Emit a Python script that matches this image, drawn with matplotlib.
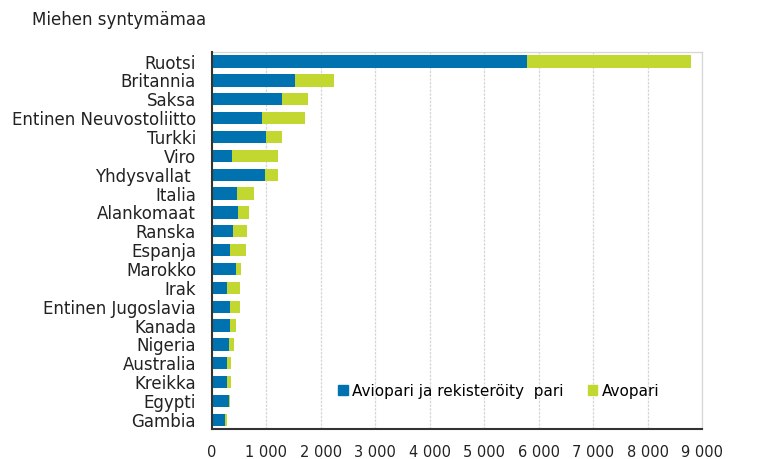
import matplotlib
matplotlib.use("Agg")
import matplotlib.pyplot as plt
from matplotlib.patches import Patch

# Miehen syntymämaa
maat = ["Ruotsi", "Britannia", "Saksa", "Entinen Neuvostoliitto", "Turkki", "Viro",
        "Yhdysvallat ", "Italia", "Alankomaat", "Ranska", "Espanja", "Marokko", "Irak",
        "Entinen Jugoslavia", "Kanada", "Nigeria", "Australia", "Kreikka", "Egypti", "Gambia"]
aviopari = [5780, 1530, 1280, 925, 1000, 365, 975, 455, 475, 390, 330, 445, 275,
            330, 330, 305, 275, 275, 305, 245]
avopari = [3020, 705, 490, 790, 280, 855, 245, 315, 205, 260, 290, 90, 230,
           175, 110, 105, 80, 80, 25, 30]
xticks = [0, 1000, 2000, 3000, 4000, 5000, 6000, 7000, 8000, 9000]

blue = "#0072B0"
green = "#C2D830"

fig = plt.figure(figsize=(7.63, 4.59), dpi=100)
ax = fig.add_axes([0.2779, 0.0647, 0.6422, 0.8217])

y = list(range(len(maat)))
ax.barh(y, aviopari, height=0.65, color=blue, zorder=3)
ax.barh(y, avopari, left=aviopari, height=0.65, color=green, zorder=3)

ax.set_ylim(len(maat) - 0.5, -0.5)
ax.set_xlim(0, 9000)
ax.set_yticks(y)
ax.set_yticklabels(maat, fontsize=12, color="#222222")
ax.set_xticks(xticks)
ax.set_xticklabels([f"{v:,}".replace(",", " ") for v in xticks], fontsize=10.5, color="#222222")
ax.tick_params(axis="y", length=0, pad=11.5)
ax.tick_params(axis="x", length=0, pad=11)

# hennot katkoviivat
ax.grid(axis="x", color="#d6d6d6", linestyle=(0, (2, 1)), linewidth=0.9, zorder=0)
for s in ["top", "right"]:
    ax.spines[s].set_color("#d6d6d6")
    ax.spines[s].set_linestyle((0, (2, 1)))
    ax.spines[s].set_linewidth(0.9)
for s in ["left", "bottom"]:
    ax.spines[s].set_color("#333333")
    ax.spines[s].set_linewidth(1.5)
    ax.spines[s].set_zorder(4)

fig.text(32 / 763, 1 - 20 / 459, "Miehen syntymämaa", fontsize=12, color="#222222",
         ha="left", va="center")

handles = [Patch(color=blue), Patch(color=green)]
fig.legend(handles, ["Aviopari ja rekisteröity  pari", "Avopari"], ncol=2,
           loc="center", bbox_to_anchor=(0.654, 0.148), frameon=False, fontsize=11,
           handlelength=0.6, handleheight=0.6, handletextpad=0.3, columnspacing=1.6)

fig.savefig("out.png", dpi=100)
